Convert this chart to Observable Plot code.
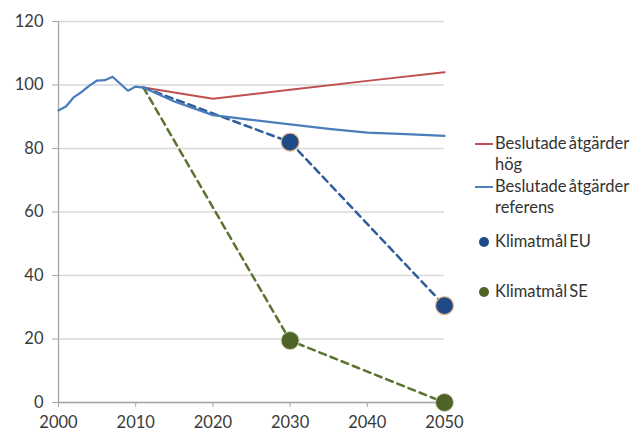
<!DOCTYPE html>
<html>
<head>
<meta charset="utf-8">
<script src="https://cdn.jsdelivr.net/npm/d3@7"></script>
<script src="https://cdn.jsdelivr.net/npm/@observablehq/plot@0.6"></script>
<style>
  html, body { margin: 0; padding: 0; background: #fff; }
  #wrap { position: relative; width: 637px; height: 434px; font-family: Lato, "Open Sans", sans-serif; }
  #legend { position: absolute; left: 468px; top: 133px; color: #333; font-size: 16.5px; line-height: 21px; word-spacing: -2px; }
  .item { position: absolute; left: 0; white-space: nowrap; }
  .item svg { position: absolute; left: 0; top: 0; }
  .item span { position: absolute; left: 27px; top: 0; }
</style>
</head>
<body>
<div id="wrap"><div id="legend"></div></div>
<script>
// Historical emissions index (2000–2011)
const histYears = [2000, 2001, 2002, 2003, 2004, 2005, 2006, 2007, 2008, 2009, 2010, 2011];
const histValues = [92, 93.3, 96.2, 97.8, 99.8, 101.4, 101.5, 102.6, 100.4, 98.2, 99.5, 99.2];

// Beslutade åtgärder hög
const hogYears = [2011, 2020, 2030, 2040, 2050];
const hogValues = [99.2, 95.7, 98.5, 101.3, 104];

// Beslutade åtgärder referens (projection)
const refYears = [2011, 2015, 2020, 2025, 2030, 2035, 2040, 2045, 2050];
const refValues = [99.2, 94.8, 90.5, 89, 87.6, 86.2, 85, 84.5, 84];

// Klimatmål EU
const euYears = [2011, 2030, 2050];
const euValues = [99.2, 82, 30.5];

// Klimatmål SE
const seYears = [2011, 2030, 2050];
const seValues = [99.2, 19.5, 0];

const xTicks = [2000, 2010, 2020, 2030, 2040, 2050];
const yTicks = [0, 20, 40, 60, 80, 100, 120];

const legendItems = [
  {label: ["Beslutade åtgärder", "hög"], kind: "line", color: "#c0504d"},
  {label: ["Beslutade åtgärder", "referens"], kind: "line", color: "#4a7ebb"},
  {label: ["Klimatmål EU"], kind: "dot", color: "#1f4a86"},
  {label: ["Klimatmål SE"], kind: "dot", color: "#4f6228"}
];

const toRows = (xs, ys) => xs.map((x, i) => ({x, y: ys[i]}));
const hist = toRows(histYears, histValues);
const ref = hist.concat(toRows(refYears, refValues).slice(1));
const hog = toRows(hogYears, hogValues);
const eu = toRows(euYears, euValues);
const se = toRows(seYears, seValues);

const chart = Plot.plot({
  width: 637,
  height: 434,
  marginLeft: 58,
  marginRight: 193,
  marginTop: 21,
  marginBottom: 32,
  style: {fontFamily: "Lato, 'Open Sans', sans-serif", fontSize: "16.5px", color: "#404040", background: "#fff"},
  x: {domain: [2000, 2050], label: null},
  y: {domain: [0, 120], label: null},
  marks: [
    Plot.gridY(yTicks, {stroke: "#d9d9d9", strokeOpacity: 1, strokeWidth: 1.3}),
    Plot.ruleX([2000], {stroke: "#a6a6a6", strokeWidth: 1.3}),
    Plot.ruleY([0], {stroke: "#a6a6a6", strokeWidth: 1.3}),
    Plot.axisY(yTicks, {tickSize: 6, tickPadding: 9, stroke: "#a6a6a6", fill: "#3a3a3a", label: null, tickFormat: d => String(d)}),
    Plot.axisX(xTicks, {tickSize: 5, tickPadding: 9, stroke: "#a6a6a6", fill: "#3a3a3a", label: null, tickFormat: d => String(d)}),
    Plot.line(hog, {x: "x", y: "y", stroke: "#c0504d", strokeWidth: 2}),
    Plot.line(eu, {x: "x", y: "y", stroke: "#2f5d9b", strokeWidth: 2.5, strokeDasharray: "7,5"}),
    Plot.line(se, {x: "x", y: "y", stroke: "#5b7330", strokeWidth: 2.5, strokeDasharray: "7,5"}),
    Plot.line(ref, {x: "x", y: "y", stroke: "#4a7ebb", strokeWidth: 2.25}),
    Plot.dot(eu.slice(1), {x: "x", y: "y", r: 9, fill: "#1f4a86", stroke: "#e8b890", strokeWidth: 1.2}),
    Plot.dot(se.slice(1), {x: "x", y: "y", r: 9, fill: "#4f6228", stroke: "#cfd8b8", strokeWidth: 1})
  ]
});

const wrap = document.getElementById("wrap");
wrap.insertBefore(chart, wrap.firstChild);

// Legend (HTML, to the right of the plot area)
const legendTops = [0, 43, 98, 148];
const legend = d3.select("#legend");
legendItems.forEach((it, i) => {
  const item = legend.append("div").attr("class", "item").style("top", legendTops[i] + "px");
  const svg = item.append("svg").attr("width", 27).attr("height", 21);
  if (it.kind === "line") {
    svg.append("line").attr("x1", 7).attr("x2", 25).attr("y1", 11).attr("y2", 11)
      .attr("stroke", it.color).attr("stroke-width", 2);
  } else {
    svg.append("circle").attr("cx", 16).attr("cy", 11).attr("r", 5).attr("fill", it.color);
  }
  item.append("span").html(it.label.join("<br>"));
});
</script>
</body>
</html>
